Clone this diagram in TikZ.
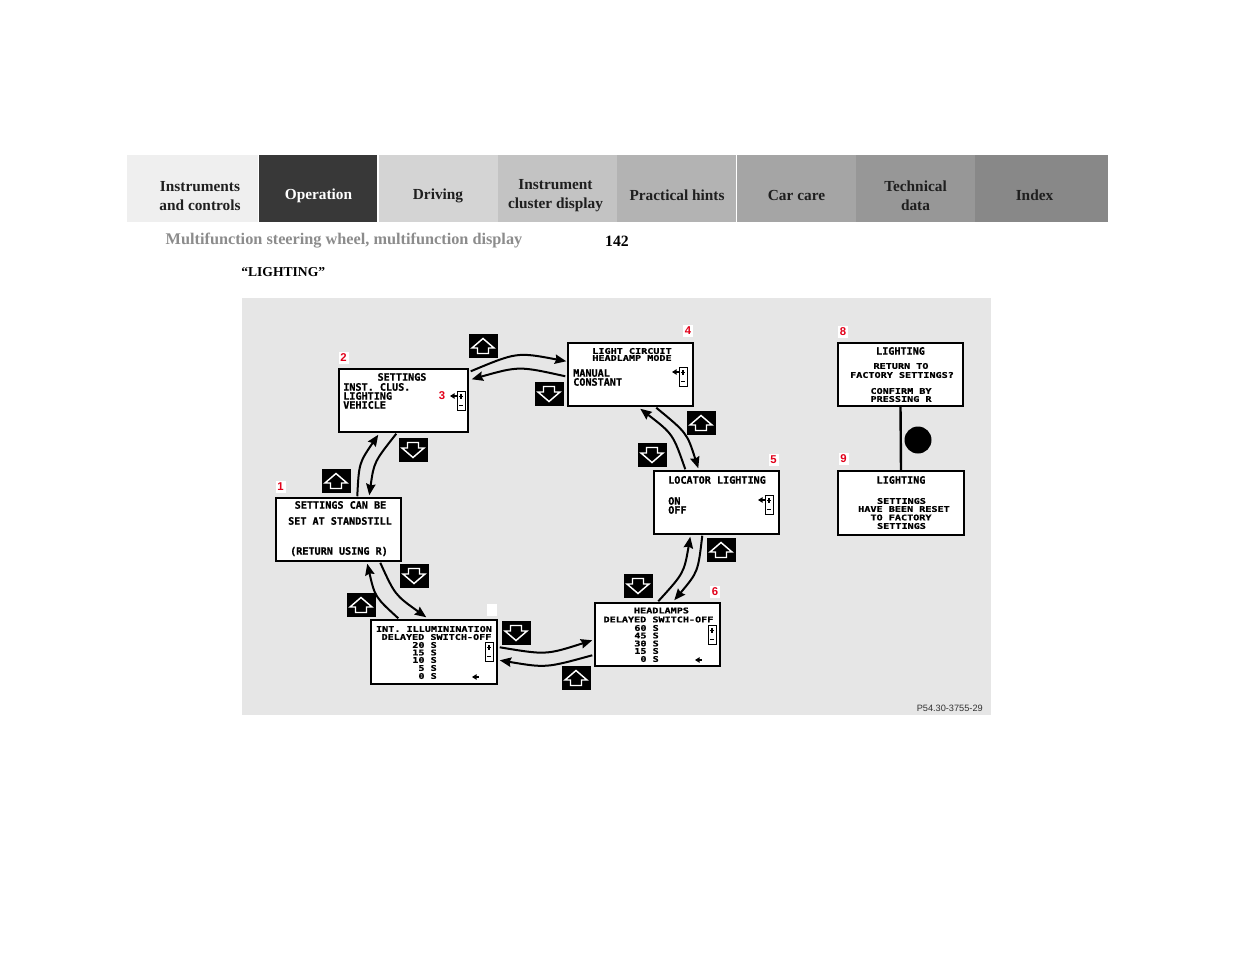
\documentclass[tikz,border=0pt]{standalone}
\usepackage{graphicx}
\usepackage{fontspec}
\setmainfont{Liberation Serif}
\newfontfamily\lcdfont{DejaVu Sans Mono}[BoldFeatures={FakeBold=0.8}]
\newfontfamily\labfont{Liberation Sans}
\usetikzlibrary{arrows.meta,calc,fit}
\definecolor{numred}{HTML}{E2001A}
\def\u{0.75pt}
\newcommand\sq[1]{\scalebox{1}[0.78]{#1}}
\newcommand\pmind[2]{%
  \draw[line width=0.6pt] (#1,#2) rectangle ++(8,19);
  \draw[line width=1pt] (#1+1.8,#2+5.5) -- ++(4.4,0) (#1+4,#2+3.1) -- ++(0,4.8) (#1+1.8,#2+14.5) -- ++(4.4,0);}
\newcommand\ptr[2]{%
  \fill (#1,#2) -- (#1+4.5,#2-2.8) -- (#1+4.5,#2+2.8) -- cycle;
  \draw[line width=0.8pt] (#1+4,#2) -- (#1+6.5,#2);}
\newcommand\upicon[3]{%
  \node[icon] (#1) at (#2,#3) {};
  \begin{scope}[shift={(#1.center)}]
    \draw[iconar] (0,-7.5) -- (11,2) -- (5.5,2) -- (5.5,7.5) -- (-5.5,7.5) -- (-5.5,2) -- (-11,2) -- cycle;
  \end{scope}}
\newcommand\downicon[3]{%
  \node[icon] (#1) at (#2,#3) {};
  \begin{scope}[shift={(#1.center)}]
    \draw[iconar] (0,7.5) -- (11,-2) -- (5.5,-2) -- (5.5,-7.5) -- (-5.5,-7.5) -- (-5.5,-2) -- (-11,-2) -- cycle;
  \end{scope}}
\tikzset{
  tabtext/.style={font=\bfseries\fontsize{11.5}{14.25}\selectfont, align=center, inner sep=0, text=black!88},
  screen/.style={draw, fill=white, line width=1.1pt, inner sep=0, rectangle},
  lcd/.style={font=\lcdfont\bfseries\fontsize{7.6}{7.6}\selectfont, inner sep=0, text height=5.5pt, text depth=0pt},
  lcdc/.style={lcd, text height=4.3pt},
  numlab/.style={font=\labfont\bfseries\fontsize{8.5}{8.5}\selectfont, text=numred, fill=white, inner sep=0, minimum width={10*\u}, minimum height={12*\u}},
  icon/.style={fill=black, draw=none, inner sep=0, minimum width={29*\u}, minimum height={24*\u}},
  iconar/.style={white, line width=1.1pt, line join=miter},
  conn/.style={line width=1.5pt, -{Stealth[length=8.5pt,width=7pt,inset=1pt]}},
}
\begin{document}
\begin{tikzpicture}[x=0.75pt,y=-0.75pt]
\fill[white] (0,0) rectangle (1235,954);
\useasboundingbox (0,0) rectangle (1235,954);
% header tabs
\fill[fill={rgb,255:red,239;green,239;blue,239}] (127,155) rectangle (258,222);
\fill[fill={rgb,255:red,56;green,56;blue,56}] (259,155) rectangle (377,222);
\fill[fill={rgb,255:red,212;green,212;blue,212}] (379,155) rectangle (497.5,222);
\fill[fill={rgb,255:red,195;green,195;blue,195}] (497.5,155) rectangle (616.5,222);
\fill[fill={rgb,255:red,179;green,179;blue,179}] (616.5,155) rectangle (735.5,222);
\fill[fill={rgb,255:red,165;green,165;blue,165}] (737,155) rectangle (855.5,222);
\fill[fill={rgb,255:red,151;green,151;blue,151}] (855.5,155) rectangle (974.5,222);
\fill[fill={rgb,255:red,136;green,136;blue,136}] (974.5,155) rectangle (1108,222);
\node[tabtext] (h1) at (200,196) {Instruments\\and controls};
\node[tabtext, text=white] (h2) at (318.5,195.5) {Operation};
\node[tabtext] (h3) at (438,195.5) {Driving};
\node[tabtext] (h4) at (555.5,196) {Instrument\\cluster display};
\node[tabtext] (h5) at (677,195.5) {Practical hints};
\node[tabtext] (h6) at (796.5,195.5) {Car care};
\node[tabtext] (h7) at (915.5,196) {Technical\\data};
\node[tabtext] (h8) at (1034.5,195.5) {Index};
\node[font=\bfseries\fontsize{12.2}{14}\selectfont, text={rgb,255:red,140;green,140;blue,140}, inner sep=0] (sub) at (344,241) {Multifunction steering wheel, multifunction display};
\node[font=\bfseries\fontsize{11.8}{14}\selectfont, inner sep=0] (pg) at (617,241) {142};
\node[font=\bfseries\fontsize{10.2}{12}\selectfont, inner sep=0, anchor=west] (ttl) at (241,272) {“LIGHTING”};
% diagram background
\fill[fill={rgb,255:red,230;green,230;blue,230}] (242,298) rectangle (991,715);
% screens
\node[screen, fit={(276,498) (401,561)}] (b1) {};
\node[screen, fit={(339,369) (468,432)}] (b2) {};
\node[screen, fit={(568,343) (693,406)}] (b4) {};
\node[screen, fit={(654,471) (779,534)}] (b5) {};
\node[screen, fit={(595,603) (720,666)}] (b6) {};
\node[screen, fit={(371,620) (497,684)}] (b7) {};
\node[screen, fit={(838,343) (963,406)}] (b8) {};
\node[screen, fit={(838,471) (964,535)}] (b9) {};
% number labels
\node[numlab] (n1) at (280.5,487) {1};
\node[numlab] (n2) at (343.5,358) {2};
\node[numlab] (n4) at (688,331) {4};
\node[numlab] (n5) at (773.5,460) {5};
\node[numlab] (n6) at (715,592) {6};
\node[numlab] (n7) at (491.5,610) {};
\node[numlab] (n8) at (843,332) {8};
\node[numlab] (n9) at (843.5,459) {9};
% screen 2
\node[lcd] (t2a) at (402,377) {SETTINGS};
\node[lcd, anchor=west] (t2b) at (343,387) {INST. CLUS.};
\node[lcd, anchor=west] (t2c) at (343,396) {LIGHTING};
\node[lcd, anchor=west] (t2d) at (343,405) {VEHICLE};
\node[numlab, fill=none] (n3) at (442,396) {3};
\ptr{450}{396}
\pmind{457}{391}
% screen 4
\node[lcdc] (t4a) at (632,351) {\sq{LIGHT CIRCUIT}};
\node[lcdc] (t4b) at (632,358) {\sq{HEADLAMP MODE}};
\node[lcd, anchor=west] (t4c) at (573,373) {MANUAL};
\node[lcd, anchor=west] (t4d) at (573,382) {CONSTANT};
\ptr{672}{372}
\pmind{679}{367}
% screen 5
\node[lcd] (t5a) at (717,480) {LOCATOR LIGHTING};
\node[lcd, anchor=west] (t5b) at (668,501) {ON};
\node[lcd, anchor=west] (t5c) at (668,510) {OFF};
\ptr{758}{500}
\pmind{765}{495}
% screen 6
\node[lcdc] (t6a) at (661.5,610.5) {\sq{HEADLAMPS}};
\node[lcdc] (t6b) at (658.5,619.5) {\sq{DELAYED SWITCH-OFF}};
\node[lcdc, anchor=east] (t6c) at (659,628) {\sq{60 S}};
\node[lcdc, anchor=east] (t6d) at (659,635.5) {\sq{45 S}};
\node[lcdc, anchor=east] (t6e) at (659,643.5) {\sq{30 S}};
\node[lcdc, anchor=east] (t6f) at (659,651) {\sq{15 S}};
\node[lcdc, anchor=east] (t6g) at (659,659) {\sq{0 S}};
\pmind{708}{625}
\ptr{695}{660}
% screen 7
\node[lcdc] (t7a) at (434,629) {\sq{INT. ILLUMININATION}};
\node[lcdc] (t7b) at (436.5,637) {\sq{DELAYED SWITCH-OFF}};
\node[lcdc, anchor=east] (t7c) at (437,645) {\sq{20 S}};
\node[lcdc, anchor=east] (t7d) at (437,652.5) {\sq{15 S}};
\node[lcdc, anchor=east] (t7e) at (437,660) {\sq{10 S}};
\node[lcdc, anchor=east] (t7f) at (437,668) {\sq{5 S}};
\node[lcdc, anchor=east] (t7g) at (437,676) {\sq{0 S}};
\pmind{485}{642}
\ptr{472}{677}
% screen 1
\node[lcd] (t1a) at (340.5,505) {SETTINGS CAN BE};
\node[lcd] (t1b) at (340,521) {SET AT STANDSTILL};
\node[lcd] (t1c) at (339,551) {(RETURN USING R)};
% screen 8
\node[lcd] (t8a) at (900.5,351) {LIGHTING};
\node[lcdc] (t8b) at (901,366) {\sq{RETURN TO}};
\node[lcdc] (t8c) at (902,375) {\sq{FACTORY SETTINGS?}};
\node[lcdc] (t8d) at (901,391) {\sq{CONFIRM BY}};
\node[lcdc] (t8e) at (901,399) {\sq{PRESSING R}};
% screen 9
\node[lcd] (t9a) at (901,480) {LIGHTING};
\node[lcdc] (t9b) at (901.5,501) {\sq{SETTINGS}};
\node[lcdc] (t9c) at (904,509) {\sq{HAVE BEEN RESET}};
\node[lcdc] (t9d) at (901,517.5) {\sq{TO FACTORY}};
\node[lcdc] (t9e) at (901.5,526) {\sq{SETTINGS}};
% link 8-9 and button
\draw[line width=1.8pt] (b8.south) -- (b9.north);
\node[circle, fill=black, inner sep=0, minimum size={27*\u}] (dot) at (918,440) {};
% icons
\upicon{i1}{483}{346}
\downicon{i2}{549}{394}
\downicon{i3}{413}{450}
\upicon{i4}{336}{481}
\upicon{i5}{701}{423}
\downicon{i6}{652}{455}
\upicon{i7}{721}{550}
\downicon{i8}{638}{586}
\downicon{i9}{414}{576}
\upicon{i10}{361}{605}
\downicon{i11}{516}{633}
\upicon{i12}{576}{678}
% connectors
\draw[conn] ($(b2.north east)+(2,3)$) .. controls (517,352) .. ($(b4.north west)+(-1,19)$);
\draw[conn] ($(b4.north west)+(-2,34)$) .. controls (519,366) .. ($(b2.north east)+(3,11)$);
\draw[conn] ($(b5.north west)+(32,-1)$) .. controls (673,434) .. ($(b4.south west)+(73,2)$);
\draw[conn] ($(b4.south west)+(89,1)$) .. controls (687,433) .. ($(b5.north west)+(45,-2)$);
\draw[conn] ($(b6.north west)+(64,-1)$) .. controls (684,573) .. ($(b5.south west)+(37,2)$);
\draw[conn] ($(b5.south west)+(49,1)$) .. controls (698,572) .. ($(b6.north west)+(80,-2)$);
\draw[conn] ($(b7.north east)+(2,28)$) .. controls (546,655) .. ($(b6.north west)+(-2,38)$);
\draw[conn] ($(b6.north west)+(-2,53)$) .. controls (546,668) .. ($(b7.north east)+(2,41)$);
\draw[conn] ($(b7.north west)+(28,-1)$) .. controls (375,597) .. ($(b1.south west)+(92,2)$);
\draw[conn] ($(b1.south west)+(105,1)$) .. controls (395,595) .. ($(b7.north west)+(56,-2)$);
\draw[conn] ($(b1.north west)+(82,-1)$) .. controls (359,463) .. ($(b2.south west)+(40,2)$);
\draw[conn] ($(b2.south west)+(58,1)$) .. controls (374,462) .. ($(b1.north west)+(94,-2)$);
% reference code
\node[font=\labfont\fontsize{6.9}{8}\selectfont, text=black!80, inner sep=0, anchor=east] (ref) at (983,708) {P54.30-3755-29};
\end{tikzpicture}
\end{document}
